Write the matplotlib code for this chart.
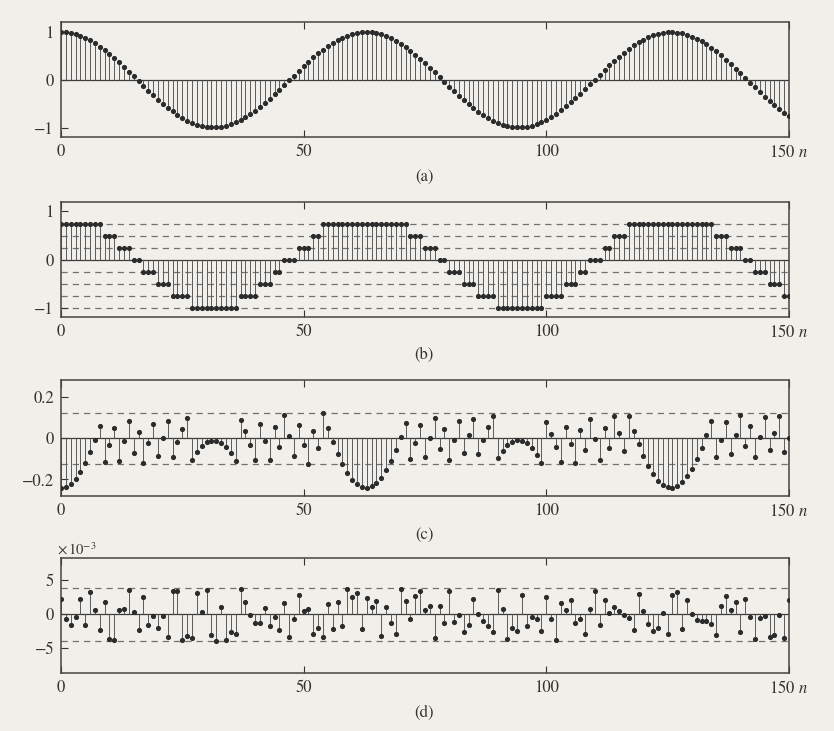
import matplotlib
matplotlib.use("Agg")
import matplotlib.pyplot as plt
import numpy as np

plt.rcParams['font.family'] = ['STIXGeneral', 'DejaVu Serif']
plt.rcParams['mathtext.fontset'] = 'stix'

# 未量化的采样信号 x[n]
signal = [0.990, 0.985, 0.970, 0.946, 0.912, 0.869, 0.817, 0.757, 0.690, 0.615,
          0.535, 0.449, 0.359, 0.265, 0.168, 0.070, -0.029, -0.128, -0.225, -0.320,
          -0.412, -0.500, -0.583, -0.660, -0.730, -0.793, -0.848, -0.895, -0.933, -0.961,
          -0.980, -0.989, -0.988, -0.978, -0.957, -0.927, -0.888, -0.840, -0.783, -0.719,
          -0.647, -0.569, -0.485, -0.397, -0.304, -0.209, -0.111, -0.012, 0.087, 0.185,
          0.281, 0.374, 0.464, 0.549, 0.628, 0.702, 0.768, 0.826, 0.877, 0.918,
          0.951, 0.973, 0.987, 0.990, 0.983, 0.967, 0.941, 0.905, 0.861, 0.808,
          0.746, 0.678, 0.602, 0.521, 0.434, 0.343, 0.249, 0.152, 0.053, -0.046,
          -0.144, -0.241, -0.336, -0.427, -0.514, -0.596, -0.672, -0.741, -0.803, -0.857,
          -0.902, -0.938, -0.965, -0.982, -0.990, -0.987, -0.975, -0.953, -0.921, -0.880,
          -0.831, -0.773, -0.707, -0.634, -0.555, -0.471, -0.381, -0.288, -0.192, -0.094,
          0.004, 0.103, 0.201, 0.297, 0.390, 0.476, 0.563, 0.641, 0.713, 0.778,
          0.835, 0.884, 0.924, 0.955, 0.976, 0.987, 0.989, 0.981, 0.963, 0.935,
          0.898, 0.852, 0.798, 0.735, 0.665, 0.589, 0.507, 0.419, 0.328, 0.233,
          0.135, 0.037, -0.062, -0.160, -0.257, -0.351, -0.442, -0.528, -0.609, -0.684,
          -0.752]

# 3 位量化后的样本
quant3 = [0.75, 0.75, 0.75, 0.75, 0.75, 0.75, 0.75, 0.75, 0.75, 0.5,
          0.5, 0.5, 0.25, 0.25, 0.25, 0, 0, -0.25, -0.25, -0.25,
          -0.5, -0.5, -0.5, -0.75, -0.75, -0.75, -0.75, -1, -1, -1,
          -1, -1, -1, -1, -1, -1, -1, -0.75, -0.75, -0.75,
          -0.75, -0.5, -0.5, -0.5, -0.25, -0.25, 0, 0, 0, 0.25,
          0.25, 0.25, 0.5, 0.5, 0.75, 0.75, 0.75, 0.75, 0.75, 0.75,
          0.75, 0.75, 0.75, 0.75, 0.75, 0.75, 0.75, 0.75, 0.75, 0.75,
          0.75, 0.75, 0.5, 0.5, 0.5, 0.25, 0.25, 0.25, 0, 0,
          -0.25, -0.25, -0.25, -0.5, -0.5, -0.5, -0.75, -0.75, -0.75, -0.75,
          -1, -1, -1, -1, -1, -1, -1, -1, -1, -1,
          -0.75, -0.75, -0.75, -0.75, -0.5, -0.5, -0.5, -0.25, -0.25, 0,
          0, 0, 0.25, 0.25, 0.5, 0.5, 0.5, 0.75, 0.75, 0.75,
          0.75, 0.75, 0.75, 0.75, 0.75, 0.75, 0.75, 0.75, 0.75, 0.75,
          0.75, 0.75, 0.75, 0.75, 0.75, 0.5, 0.5, 0.5, 0.25, 0.25,
          0.25, 0, 0, -0.25, -0.25, -0.25, -0.5, -0.5, -0.5, -0.75,
          -0.75]

# 3 位量化误差
err3 = [-0.240, -0.235, -0.220, -0.196, -0.162, -0.119, -0.067, -0.007, 0.060, -0.115,
        -0.035, 0.051, -0.109, -0.015, 0.082, -0.070, 0.029, -0.122, -0.025, 0.070,
        -0.088, 0.000, 0.083, -0.090, -0.020, 0.043, 0.098, -0.105, -0.067, -0.039,
        -0.020, -0.011, -0.012, -0.022, -0.043, -0.073, -0.112, 0.090, 0.033, -0.031,
        -0.103, 0.069, -0.015, -0.103, 0.054, -0.041, 0.111, 0.012, -0.087, 0.065,
        -0.031, -0.124, 0.036, -0.049, 0.122, 0.048, -0.018, -0.076, -0.127, -0.168,
        -0.201, -0.223, -0.237, -0.240, -0.233, -0.217, -0.191, -0.155, -0.111, -0.058,
        0.004, 0.072, -0.102, -0.021, 0.066, -0.093, 0.001, 0.098, -0.053, 0.046,
        -0.106, -0.009, 0.086, -0.073, 0.014, 0.096, -0.078, -0.009, 0.053, 0.107,
        -0.098, -0.062, -0.035, -0.018, -0.010, -0.013, -0.025, -0.047, -0.079, -0.120,
        0.081, 0.023, -0.043, -0.116, 0.055, -0.029, -0.119, 0.038, -0.058, 0.094,
        -0.004, -0.103, 0.049, -0.047, 0.110, 0.024, -0.063, 0.109, 0.037, -0.028,
        -0.085, -0.134, -0.174, -0.205, -0.226, -0.237, -0.239, -0.231, -0.213, -0.185,
        -0.148, -0.102, -0.048, 0.015, 0.085, -0.089, -0.007, 0.081, -0.078, 0.017,
        0.115, -0.037, 0.062, -0.090, 0.007, 0.101, -0.058, 0.028, 0.109, -0.066,
        0.002]

# 8 位量化误差（单位 1e-3）
err8 = [2.19, -0.68, -1.52, -0.47, 2.21, -1.62, 3.23, 0.62, -2.24, 1.79,
        -3.65, -3.75, 0.64, 0.80, 3.60, 0.28, -2.34, 2.55, -1.63, -0.26,
        -2.07, -0.20, -3.32, 3.37, 3.45, -3.75, -3.24, -3.41, 3.11, 0.31,
        3.53, -3.04, -3.88, 1.04, -3.81, -2.59, -2.83, 3.68, 1.81, -0.08,
        -1.33, -1.24, 0.98, -1.65, -0.43, -2.25, 1.65, -3.36, -0.69, 2.85,
        0.43, 0.80, -2.90, -1.95, -3.34, 1.54, -2.19, 1.76, -1.66, 3.67,
        2.56, 3.14, -2.20, 2.35, 1.13, 1.93, -3.23, 1.01, -1.33, -2.89,
        3.64, 1.98, -0.70, 2.63, 3.34, 0.58, 1.25, -3.41, 1.27, -1.32,
        3.42, -1.08, -0.17, -2.62, -1.53, 2.24, 0.07, -1.02, -1.71, -2.59,
        3.58, 0.74, -3.66, -2.08, -2.48, 2.82, -1.72, -0.39, -0.75, -2.51,
        2.55, -0.67, -3.82, 1.60, 0.68, 2.03, -1.33, -0.69, -2.93, 0.72,
        3.43, -1.64, 2.15, 0.13, 1.06, 0.42, -0.11, -0.49, -2.29, 3.03,
        0.53, -1.47, -2.43, -1.96, 0.24, -2.82, 2.75, 3.21, -2.16, 2.09,
        0.06, -0.79, -0.95, -0.94, -1.41, -3.03, 1.24, 2.74, 0.62, 1.78,
        -2.56, 2.27, -0.33, -3.56, -0.59, -0.19, -3.29, -3.00, -0.17, -3.43,
        2.09]

x_ticks = [0, 50, 100, 150]
x_tick_labels = ['0', '50', '100', '150 $\\mathit{n}$']

levels_b = [-1, -0.75, -0.5, -0.25, 0.25, 0.5, 0.75]
levels_c = [-0.125, 0.125]
levels_d = [-3.906, 3.906]

bg = '#f1efe9'
ink = '#2b2b2b'

fig = plt.figure(figsize=(8.34, 7.31), dpi=100, facecolor=bg)


def draw_panel(rect, vals, ylim, yticks, ylabels, levels, tag, tag_y):
    ax = fig.add_axes(rect, facecolor=bg)
    n = np.arange(len(vals))
    for lv in levels:
        ax.axhline(lv, color='#707070', lw=0.9, dashes=(5, 4), zorder=1)
    ax.axhline(0, color='#3a3a3a', lw=0.9, zorder=2)
    ax.vlines(n, 0, vals, color='#5a5a5a', lw=0.7, zorder=2)
    ax.plot(n, vals, 'o', ms=2.7, color=ink, mec=ink, zorder=3)
    ax.set_xlim(0, 150)
    ax.set_ylim(*ylim)
    ax.set_xticks(x_ticks)
    ax.set_xticklabels(x_tick_labels)
    ax.set_yticks(yticks)
    ax.set_yticklabels(ylabels)
    ax.tick_params(direction='in', top=True, right=False, length=5, width=0.8,
                   labelsize=12, colors='#333333', pad=5)
    for sp in ax.spines.values():
        sp.set_color('#444444')
        sp.set_linewidth(1.1)
    fig.text(424 / 834, 1 - tag_y / 731, tag, ha='center', va='center',
             fontsize=12, color='#333333')
    return ax


draw_panel([0.0731, 0.8126, 0.8729, 0.1573], signal, (-1.19, 1.2),
           [-1, 0, 1], ['\u22121', '0', '1'], [], '(a)', 177)
draw_panel([0.0731, 0.5668, 0.8729, 0.1573], quant3, (-1.17, 1.2),
           [-1, 0, 1], ['\u22121', '0', '1'], levels_b, '(b)', 355)
draw_panel([0.0731, 0.3215, 0.8729, 0.1587], err3, (-0.28, 0.283),
           [-0.2, 0, 0.2], ['\u22120.2', '0', '0.2'], levels_c, '(c)', 535)
draw_panel([0.0731, 0.0798, 0.8729, 0.1565], err8, (-8.55, 8.2),
           [-5, 0, 5], ['\u22125', '0', '5'], levels_d, '(d)', 713)

fig.text(57 / 834, 1 - 549 / 731, '$\\times\\,10^{-3}$', ha='left', va='center',
         fontsize=10.5, color='#333333')

fig.savefig('out.png', dpi=100, facecolor=bg)
